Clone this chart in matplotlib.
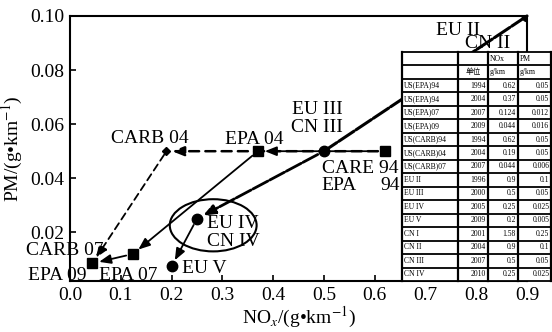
import numpy as np
import matplotlib
matplotlib.use('Agg')
import matplotlib.pyplot as plt
from matplotlib.patches import Ellipse, Rectangle

plt.rcParams['font.family'] = ['Liberation Serif', 'Noto Sans CJK SC']
plt.rcParams['mathtext.fontset'] = 'stix'

# --- data ---
epa_x = [0.62, 0.37, 0.124, 0.044]
epa_y = [0.05, 0.05, 0.012, 0.0085]
carb_x = [0.62, 0.19, 0.044]
carb_y = [0.05, 0.05, 0.0085]
eu_x = [0.9, 0.5, 0.25, 0.2]
eu_y = [0.1, 0.05, 0.025, 0.0074]

# label text, x, y, ha
labels = [
    ('CARB 04', 0.158, 0.0548, 'center'),
    ('EPA 04', 0.363, 0.0545, 'center'),
    ('EU III', 0.487, 0.0656, 'center'),
    ('CN III', 0.487, 0.0589, 'center'),
    ('CARE 94', 0.496, 0.0437, 'left'),
    ('EPA', 0.496, 0.0374, 'left'),
    ('94', 0.650, 0.0374, 'right'),
    ('EU II', 0.764, 0.0948, 'center'),
    ('CN II', 0.823, 0.0900, 'center'),
    ('EU IV', 0.270, 0.0233, 'left'),
    ('CN IV', 0.270, 0.0167, 'left'),
    ('EU V', 0.220, 0.0067, 'left'),
    ('CARB 07', -0.010, 0.0131, 'center'),
    ('EPA 09', -0.026, 0.0042, 'center'),
    ('EPA 07', 0.115, 0.0042, 'center'),
]

# standards table
tab_header = [['', '', 'NOx', 'PM'], ['', '单位', 'g/km', 'g/km']]
tab_names = ['US(EPA)94', 'US(EPA)94', 'US(EPA)07', 'US(EPA)09', 'US(CARB)94',
             'US(CARB)04', 'US(CARB)07', 'EU II', 'EU III', 'EU IV', 'EU V',
             'CN I', 'CN II', 'CN III', 'CN IV']
tab_years = ['1994', '2004', '2007', '2009', '1994', '2004', '2007', '1996',
             '2000', '2005', '2009', '2001', '2004', '2007', '2010']
tab_nox = ['0.62', '0.37', '0.124', '0.044', '0.62', '0.19', '0.044', '0.9',
           '0.5', '0.25', '0.2', '1.58', '0.9', '0.5', '0.25']
tab_pm = ['0.05', '0.05', '0.012', '0.016', '0.05', '0.05', '0.006', '0.1',
          '0.05', '0.025', '0.005', '0.25', '0.1', '0.05', '0.025']


def arrow(ax, p0, p1, lw=1.2, ls='-', head=True, sa=0, sb=0):
    style = '-|>,head_length=0.7,head_width=0.28' if head else '-'
    ax.annotate('', xy=p1, xytext=p0,
                arrowprops=dict(arrowstyle=style, color='k', lw=lw, ls=ls,
                                shrinkA=sa, shrinkB=sb), zorder=2)


fig = plt.figure(figsize=(5.52, 3.32), dpi=100)
ax = fig.add_axes([70 / 552, 51 / 332, 457 / 552, 265 / 332])
ax.set_xlim(0, 0.9)
ax.set_ylim(0.002, 0.1)

# EPA path (solid)
for i in range(len(epa_x) - 1):
    arrow(ax, (epa_x[i], epa_y[i]), (epa_x[i + 1], epa_y[i + 1]), lw=1.3, sa=5, sb=5)
# CARB path (dashed)
arrow(ax, (carb_x[0], carb_y[0]), (carb_x[1], carb_y[1]), lw=1.8, ls=(0, (4, 2.5)), sa=5, sb=4)
arrow(ax, (carb_x[1], carb_y[1]), (carb_x[2], carb_y[2]), lw=1.3, ls=(0, (4, 2.5)), sa=3, sb=5)
# EU / CN path
arrow(ax, (eu_x[0], eu_y[0]), (eu_x[1], eu_y[1]), lw=2.2, ls=(0, (6, 0.8)), head=False)
arrow(ax, (eu_x[1], eu_y[1]), (eu_x[2], eu_y[2]), lw=2.0, ls=(0, (6, 0.8)), sa=5, sb=5)
arrow(ax, (eu_x[2], eu_y[2]), (eu_x[3], eu_y[3]), lw=1.3, sa=5, sb=5)

ax.plot(epa_x, epa_y, 's', color='k', ms=7.5, ls='none', zorder=3)
ax.plot(carb_x[1], carb_y[1], 'D', color='k', ms=4.5, zorder=3)
ax.plot(eu_x, eu_y, 'o', color='k', ms=7.5, ls='none', zorder=3)

ax.add_patch(Ellipse((0.282, 0.0226), 0.171, 0.0193, fill=False, ec='k', lw=1.5))

for txt, x, y, ha in labels:
    ax.text(x, y, txt, ha=ha, va='center', fontsize=14)

ax.set_xticks(np.arange(0, 0.91, 0.1))
ax.set_xticklabels([f'{v:.1f}' for v in np.arange(0, 0.91, 0.1)])
ax.set_yticks([0.02, 0.04, 0.06, 0.08, 0.10])
ax.set_yticklabels(['0.02', '0.04', '0.06', '0.08', '0.10'])
ax.tick_params(direction='in', length=4, width=1.2, labelsize=14, pad=4)
for s in ax.spines.values():
    s.set_linewidth(1.5)
ax.set_xlabel('NO$_x$/(g•km$^{-1}$)', fontsize=14, labelpad=1)
ax.set_ylabel('PM/(g•km$^{-1}$)', fontsize=14, labelpad=4)

# table on top of the plot
tax = fig.add_axes([402 / 552, 51 / 332, 150 / 552, 229 / 332])
tax.set_xlim(0, 150)
tax.set_ylim(15, 0)
tax.axis('off')
tax.add_patch(Rectangle((0, 0), 150, 15, fc='white', ec='none', clip_on=False))
cols = [0, 56, 86, 116, 149.3]
nrows = len(tab_header) + len(tab_names)
row_h = 15 / nrows
for r in range(nrows + 1):
    tax.plot([0, 149.3], [r * row_h] * 2, color='k', lw=1.3, clip_on=False)
for c in cols:
    tax.plot([c, c], [0, 15], color='k', lw=1.6, clip_on=False)

fs = 5.5
for r, row in enumerate(tab_header):
    y = (r + 0.5) * row_h
    tax.text(cols[1] + 15, y, row[1], ha='center', va='center', fontsize=fs,
             family=['Noto Sans CJK SC'])
    tax.text(cols[2] + 2, y, row[2], ha='left', va='center', fontsize=fs)
    tax.text(cols[3] + 2, y, row[3], ha='left', va='center', fontsize=fs)
for i, (n, yr, nx, pm) in enumerate(zip(tab_names, tab_years, tab_nox, tab_pm)):
    y = (i + len(tab_header) + 0.5) * row_h
    tax.text(cols[0] + 2, y, n, ha='left', va='center', fontsize=fs)
    tax.text(cols[2] - 2, y, yr, ha='right', va='center', fontsize=fs)
    tax.text(cols[3] - 2, y, nx, ha='right', va='center', fontsize=fs)
    tax.text(cols[4] - 2, y, pm, ha='right', va='center', fontsize=fs)

fig.savefig('out.png', dpi=100)
